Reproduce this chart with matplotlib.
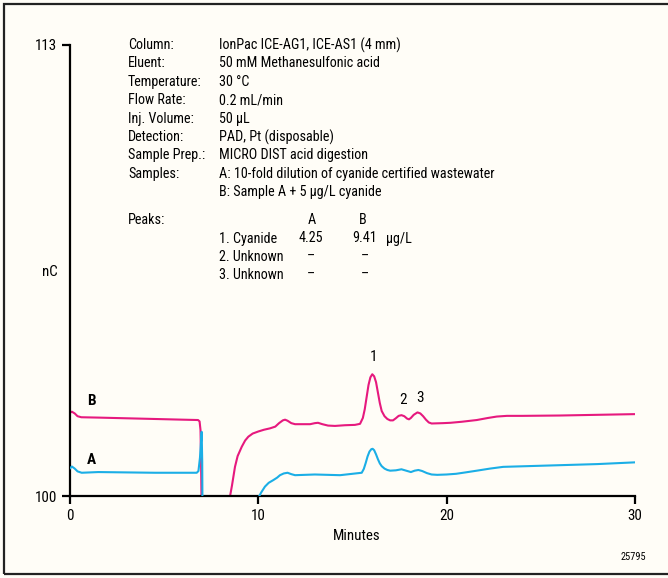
import matplotlib
matplotlib.use("Agg")
import matplotlib.pyplot as plt
from matplotlib import font_manager
from matplotlib.patches import Rectangle

names = {f.name for f in font_manager.fontManager.ttflist}
FONT = None
for cand in ['Liberation Sans Narrow', 'Roboto Condensed', 'Roboto', 'Liberation Sans']:
    if cand in names:
        FONT = cand
        break
plt.rcParams['font.family'] = [FONT, 'DejaVu Sans']

# ---- data (minutes, nC) ----
time_b = [0.0, 0.1, 0.25, 0.4, 0.6, 1.5, 3.0, 4.5, 6.0, 6.8, 6.88, 6.93, 6.96, 7.0, 8.4,
          8.5, 8.6, 8.76, 8.9, 9.12, 9.3, 9.47, 9.7, 10.0, 10.3, 10.62, 10.9, 11.1, 11.3, 11.42,
          11.55, 11.75, 11.95, 12.4, 12.75, 13.0, 13.17, 13.4, 13.7, 14.07, 14.6, 15.13,
          15.4, 15.55, 15.65, 15.75, 15.85, 15.95, 16.05, 16.15, 16.25, 16.35, 16.45, 16.55,
          16.7, 16.85, 17.0, 17.15, 17.3, 17.45, 17.6, 17.75, 17.9, 18.0, 18.1, 18.25, 18.45,
          18.6, 18.75, 18.9, 19.05, 19.2, 19.8, 20.2, 20.8, 21.6, 22.2, 22.66, 23.2, 24.0,
          26.0, 28.0, 30.0]
value_b = [102.4, 102.43, 102.38, 102.3, 102.27, 102.26, 102.24, 102.22, 102.2, 102.19, 102.15,
           101.9, 101.0, 99.0, 99.0,
           100.0, 100.3, 100.84, 101.15, 101.42, 101.6, 101.71, 101.8, 101.86, 101.91, 101.95,
           102.0, 102.1, 102.18, 102.2,
           102.17, 102.1, 102.07, 102.07, 102.07, 102.1, 102.11, 102.07, 102.03, 102.02, 102.04,
           102.05,
           102.08, 102.25, 102.5, 102.85, 103.2, 103.42, 103.51, 103.45, 103.28, 102.98, 102.68,
           102.45,
           102.3, 102.22, 102.18, 102.18, 102.24, 102.31, 102.33, 102.3, 102.23, 102.21, 102.25,
           102.34, 102.41,
           102.38, 102.3, 102.2, 102.12, 102.09, 102.1, 102.11, 102.14, 102.19, 102.25, 102.29,
           102.31, 102.31,
           102.32, 102.34, 102.36]

time_a = [0.0, 0.1, 0.25, 0.4, 0.62, 1.5, 3.0, 4.5, 6.0, 6.73, 6.82, 6.9, 6.96, 6.99, 7.02, 7.04,
          9.9, 10.0, 10.15, 10.35, 10.55, 10.8, 11.0, 11.15, 11.35, 11.55, 11.75, 11.95, 13.0,
          14.34, 15.49, 15.6, 15.7, 15.8, 15.9, 16.0, 16.07, 16.15, 16.25, 16.35, 16.45, 16.55,
          16.7, 16.85, 17.0, 17.3, 17.6, 17.85, 18.1, 18.3, 18.5, 18.7, 18.95, 19.2, 19.5, 20.0,
          20.5, 21.0, 21.6, 22.3, 23.0, 25.5, 28.0, 30.0]
value_a = [100.8, 100.85, 100.79, 100.71, 100.67, 100.69, 100.68, 100.67, 100.67, 100.67, 100.72,
           101.1, 101.6, 101.85, 101.0, 99.0,
           99.0, 99.95, 100.1, 100.27, 100.38, 100.46, 100.53, 100.6, 100.65, 100.67, 100.63,
           100.6, 100.62,
           100.6, 100.67, 100.78, 100.95, 101.14, 101.28, 101.35, 101.36, 101.32, 101.2, 101.06,
           100.94, 100.86,
           100.79, 100.75, 100.73, 100.74, 100.77, 100.73, 100.69, 100.73, 100.75, 100.72, 100.66,
           100.62, 100.61, 100.62,
           100.64, 100.68, 100.73, 100.79, 100.84, 100.88, 100.92, 100.97]

x_ticks = [0, 10, 20, 30]
y_ticks = [100, 113]

peak_labels = ['1', '2', '3']
peak_times = [16.1, 17.7, 18.6]
peak_heights = [104.0, 102.78, 102.82]

conditions = [
    ("Column:", "IonPac ICE-AG1, ICE-AS1 (4 mm)"),
    ("Eluent:", "50 mM Methanesulfonic acid"),
    ("Temperature:", "30 °C"),
    ("Flow Rate:", "0.2 mL/min"),
    ("Inj. Volume:", "50 µL"),
    ("Detection:", "PAD, Pt (disposable)"),
    ("Sample Prep.:", "MICRO DIST acid digestion"),
    ("Samples:", "A: 10-fold dilution of cyanide certified wastewater"),
    ("", "B: Sample A + 5 µg/L cyanide"),
]
peak_names = ["1. Cyanide", "2. Unknown", "3. Unknown"]
conc_a = ["4.25", "–", "–"]
conc_b = ["9.41", "–", "–"]

PINK = '#E6197E'
BLUE = '#1BAEE6'
BG = '#FFFDF7'
FS = 10.2

W, H = 668, 578
fig = plt.figure(figsize=(W / 100, H / 100), dpi=100, facecolor=BG)
ax = fig.add_axes([70 / W, 1 - 496 / H, 565 / W, 451 / H])
ax.set_facecolor(BG)

ax.plot(time_b, value_b, color=PINK, lw=1.5, solid_joinstyle='round', zorder=2)
ax.plot(time_a, value_a, color=BLUE, lw=1.5, solid_joinstyle='round', zorder=3)

ax.set_xlim(0, 30)
ax.set_ylim(100, 113)
for s in ['top', 'right']:
    ax.spines[s].set_visible(False)
for s in ['left', 'bottom']:
    ax.spines[s].set_linewidth(1.6)
    ax.spines[s].set_color('black')
ax.set_xticks(x_ticks)
ax.set_yticks(y_ticks)
ax.tick_params(axis='both', direction='out', length=6, width=1.6, labelsize=10.8, pad=3, colors='black')

for lab, t, h in zip(peak_labels, peak_times, peak_heights):
    ax.text(t, h, lab, ha='center', va='center', fontsize=11)

def ftext(px, py, s, **kw):
    fig.text(px / W, 1 - py / H, s, va='center', **kw)

ftext(58, 272, "nC", ha='right', fontsize=10.8)
ftext(357, 536, "Minutes", ha='center', fontsize=10.8)
ftext(91, 401, "B", ha='center', fontsize=11, fontweight='bold')
ftext(91, 460, "A", ha='center', fontsize=11, fontweight='bold')
ftext(646, 557, "25795", ha='right', fontsize=7.5)

y0, dy = 45, 18.4
for i, (k, v) in enumerate(conditions):
    y = y0 + i * dy
    ftext(128, y, k, ha='left', fontsize=FS)
    ftext(219, y, v, ha='left', fontsize=FS)

ftext(128, 220, "Peaks:", ha='left', fontsize=FS)
ftext(312, 220, "A", ha='center', fontsize=FS)
ftext(363, 220, "B", ha='center', fontsize=FS)
for i, (n, a, b) in enumerate(zip(peak_names, conc_a, conc_b)):
    y = 238.5 + i * 18.4
    ftext(219, y, n, ha='left', fontsize=FS)
    ftext(311, y, a, ha='center', fontsize=FS)
    ftext(365, y, b, ha='center', fontsize=FS)
ftext(386, 238.5, "µg/L", ha='left', fontsize=FS)

fig.patches.append(Rectangle((4 / W, 4 / H), 2.0, 1 - 8 / H, transform=fig.transFigure,
                             fill=False, edgecolor='#222222', lw=1.6))

fig.savefig("out.png", dpi=100, facecolor=BG)
